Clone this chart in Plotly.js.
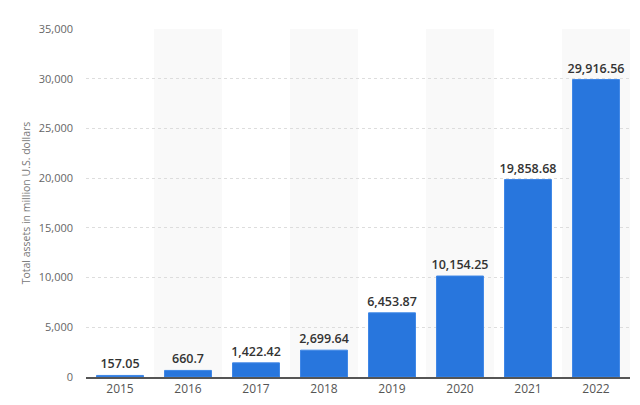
<!DOCTYPE html>
<html>
<head>
<meta charset="utf-8">
<script src="https://cdn.plot.ly/plotly-3.0.1.min.js"></script>
<style>
  html, body { margin: 0; padding: 0; background: #fff; }
  #chart { width: 640px; height: 405px; }
</style>
</head>
<body>
<div id="chart"></div>
<script>
// total assets by year
var years = ['2015', '2016', '2017', '2018', '2019', '2020', '2021', '2022'];
var assets = [157.05, 660.7, 1422.42, 2699.64, 6453.87, 10154.25, 19858.68, 29916.56];
var labels = ['157.05', '660.7', '1,422.42', '2,699.64', '6,453.87', '10,154.25', '19,858.68', '29,916.56'];

// light bands behind every second year
var shapes = [];
for (var i = 1; i < years.length; i += 2) {
  shapes.push({
    type: 'rect', xref: 'x', yref: 'paper',
    x0: i - 0.5, x1: i + 0.5, y0: 0, y1: 1,
    fillcolor: '#f9f9f9', line: {width: 0}, layer: 'below'
  });
}

var bars = {
  x: years,
  y: assets,
  type: 'bar',
  text: labels,
  textposition: 'outside',
  constraintext: 'none',
  cliponaxis: false,
  textfont: {family: 'Open Sans, sans-serif', size: 12.5, color: '#333', weight: 600},
  marker: {color: '#2876dd', line: {color: '#3d86e6', width: 1}},
  hoverinfo: 'x+y'
};

var layout = {
  width: 640,
  height: 405,
  margin: {l: 86, r: 10, t: 29, b: 28},
  paper_bgcolor: '#fff',
  plot_bgcolor: 'rgba(0,0,0,0)',
  bargap: 0.31,
  showlegend: false,
  shapes: shapes,
  font: {family: 'Open Sans, sans-serif', color: '#666'},
  xaxis: {
    type: 'category',
    showgrid: false,
    showline: true,
    linecolor: '#555',
    linewidth: 2,
    ticks: '',
    tickfont: {size: 12, color: '#555'},
    fixedrange: true
  },
  yaxis: {
    range: [0, 35000],
    dtick: 5000,
    tickformat: ',d',
    showgrid: true,
    gridcolor: '#ddd',
    griddash: 'dot',
    gridwidth: 1,
    zeroline: false,
    showline: false,
    ticks: '',
    ticklabelstandoff: 12,
    tickfont: {size: 11, color: '#666'},
    title: {
      text: 'Total assets in million U.S. dollars',
      font: {size: 10.5, color: '#777'},
      standoff: 6
    },
    fixedrange: true
  }
};

Plotly.newPlot('chart', [bars], layout, {displayModeBar: false, staticPlot: true});
</script>
</body>
</html>
